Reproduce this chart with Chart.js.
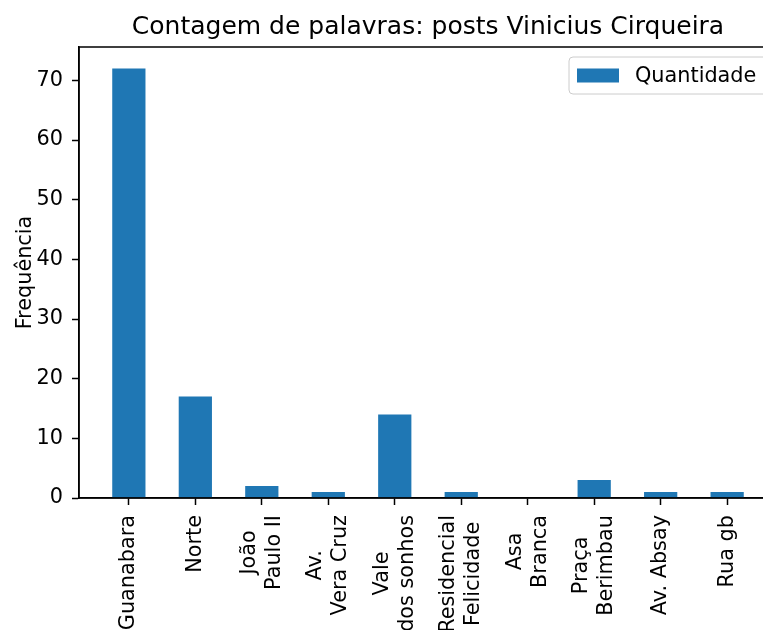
<!DOCTYPE html>
<html>
<head>
<meta charset="utf-8">
<script src="https://cdn.jsdelivr.net/npm/chart.js@4.4.1/dist/chart.umd.min.js"></script>
<style>
  html, body { margin: 0; padding: 0; background: #fff; overflow: hidden; }
  #wrap { width: 800px; height: 630px; }
</style>
</head>
<body>
<div id="wrap"><canvas id="c" width="800" height="630"></canvas></div>
<script>
// ---- data ----
const categories = ['Guanabara', 'Norte', 'João\nPaulo II', 'Av.\nVera Cruz', 'Vale\ndos sonhos',
                    'Residencial\nFelicidade', 'Asa\nBranca', 'Praça\nBerimbau', 'Av. Absay', 'Rua gb'];
const counts = [72, 17, 2, 1, 14, 1, 0, 3, 1, 1];
const yTicks = [0, 10, 20, 30, 40, 50, 60, 70];
const seriesName = 'Quantidade';
const chartTitle = 'Contagem de palavras: posts Vinicius Cirqueira';
const yTitle = 'Frequência';

const FONT = "'DejaVu Sans', sans-serif";
const FS = 20.8;
const BAR = '#1f77b4';

const spinesPlugin = {
  id: 'spines',
  afterDraw(chart) {
    const {ctx, chartArea: a} = chart;
    ctx.save();
    ctx.strokeStyle = '#000';
    ctx.lineWidth = 1.5;
    ctx.strokeRect(a.left, a.top, a.right - a.left, a.bottom - a.top);
    ctx.restore();
  }
};

const xLabelsPlugin = {
  id: 'xLabels',
  afterDraw(chart) {
    const {ctx, chartArea: a} = chart;
    const xs = chart.scales.x;
    ctx.save();
    ctx.font = FS + 'px ' + FONT;
    ctx.fillStyle = '#000';
    ctx.textAlign = 'center';
    ctx.textBaseline = 'middle';
    const lh = FS * 1.2;
    const top = a.bottom + 17;
    categories.forEach((lab, i) => {
      const lines = lab.split('\n');
      const L = Math.max(...lines.map(l => ctx.measureText(l).width));
      const px = xs.getPixelForValue(i);
      ctx.save();
      ctx.translate(px, top);
      ctx.rotate(-Math.PI / 2);
      lines.forEach((l, k) => {
        ctx.fillText(l, -L / 2, (k - (lines.length - 1) / 2) * lh);
      });
      ctx.restore();
    });
    ctx.restore();
  }
};

const legendPlugin = {
  id: 'boxLegend',
  afterDraw(chart) {
    const {ctx, chartArea: a} = chart;
    const ds = chart.data.datasets[0];
    ctx.save();
    const left = a.right - 208, top = a.top + 10, right = a.right - 10, h = 37;
    ctx.beginPath();
    ctx.roundRect(left, top, right - left, h, 4);
    ctx.fillStyle = 'rgba(255,255,255,0.8)';
    ctx.fill();
    ctx.strokeStyle = '#cccccc';
    ctx.lineWidth = 1;
    ctx.stroke();
    ctx.fillStyle = ds.backgroundColor;
    ctx.fillRect(left + 8, top + h / 2 - 7, 42, 14);
    ctx.fillStyle = '#000';
    ctx.font = FS + 'px ' + FONT;
    ctx.textAlign = 'left';
    ctx.textBaseline = 'middle';
    ctx.fillText(ds.label, left + 66, top + h / 2 + 1);
    ctx.restore();
  }
};

new Chart(document.getElementById('c'), {
  type: 'bar',
  data: {
    datasets: [{
      label: seriesName,
      data: counts.map((v, i) => ({x: i, y: v})),
      backgroundColor: BAR,
      borderWidth: 0,
      barPercentage: 0.5,
      categoryPercentage: 1.0
    }]
  },
  options: {
    responsive: false,
    animation: false,
    devicePixelRatio: 1,
    layout: { padding: { left: 0, right: 23, top: 0, bottom: 0 } },
    plugins: {
      legend: { display: false },
      tooltip: { enabled: false },
      title: {
        display: true,
        text: chartTitle,
        fullSize: false,
        color: '#000',
        font: { family: FONT, size: 25, weight: 'normal', lineHeight: 1.2 },
        padding: { top: 12, bottom: 5 }
      }
    },
    scales: {
      x: {
        type: 'linear',
        min: -0.75,
        max: categories.length - 0.25,
        offset: false,
        afterBuildTicks: s => { s.ticks = categories.map((c, i) => ({value: i})); },
        afterFit: s => { s.height = 132; },
        ticks: { display: false, autoSkip: false },
        grid: { offset: false, drawOnChartArea: false, drawTicks: true, tickLength: 7, tickColor: '#000', tickWidth: 1.5 },
        border: { display: true, color: '#000', width: 1.5 }
      },
      y: {
        min: 0,
        max: 75.6,
        afterBuildTicks: s => { s.ticks = yTicks.map(v => ({value: v})); },
        afterFit: s => { s.width = 79; },
        ticks: { color: '#000', padding: 9, font: { family: FONT, size: FS } },
        grid: { drawOnChartArea: false, drawTicks: true, tickLength: 7, tickColor: '#000', tickWidth: 1.5 },
        border: { display: true, color: '#000', width: 1.5 },
        title: {
          display: true,
          text: yTitle,
          color: '#000',
          font: { family: FONT, size: FS, lineHeight: 1.2 },
          padding: { top: 13, bottom: 0 }
        }
      }
    }
  },
  plugins: [spinesPlugin, xLabelsPlugin, legendPlugin]
});
</script>
</body>
</html>
